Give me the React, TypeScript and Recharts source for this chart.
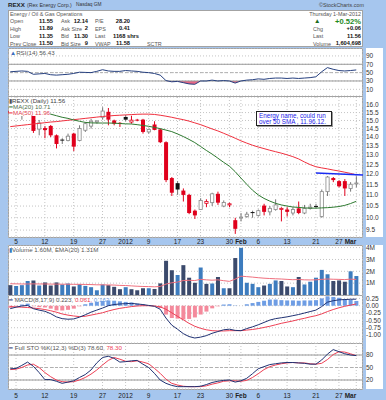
import React from "react";
import {
  ComposedChart,
  Bar,
  Line,
  Area,
  XAxis,
  YAxis,
  CartesianGrid,
  ReferenceLine,
  Cell,
} from "recharts";

// trading days Dec 2 2011 .. Mar 1 2012, position -1 .. 59
const opens = [15.6, 15.4, 15.6, 15.75, 15.41, 14.47, 14.53, 14.66, 14.1, 13.85, 13.8, 14.2, 13.8, 14.4, 14.65, 14.9, 15.2, 15.55, 15.0, 14.85, 15.22, 14.9, 15.05, 15.05, 14.3, 14.75, 14.45, 13.7, 11.8, 11.55, 11.2, 11.0, 10.3, 10.35, 10.62, 10.65, 11.05, 10.5, 10.55, 9.9, 10.0, 10.05, 10.24, 10.1, 10.52, 10.25, 10.35, 10.35, 10.35, 10.2, 10.4, 10.2, 10.4, 10.5, 10.05, 11.15, 11.8, 11.65, 11.65, 11.3, 11.55];
const highs = [15.8, 15.9, 15.95, 16.0, 15.45, 15.03, 14.66, 14.72, 14.15, 13.93, 14.2, 14.25, 14.7, 14.9, 15.1, 15.0, 15.85, 15.8, 15.05, 14.9, 15.35, 15.3, 15.1, 15.1, 14.5, 14.95, 14.5, 13.75, 11.85, 11.65, 11.3, 11.05, 10.35, 10.85, 10.8, 11.1, 11.15, 10.75, 10.65, 10.0, 10.2, 10.25, 10.3, 10.35, 10.6, 10.5, 10.8, 10.45, 10.45, 10.45, 10.7, 10.55, 10.6, 10.6, 11.25, 11.9, 11.85, 11.7, 11.75, 11.6, 11.89];
const lows = [15.3, 15.3, 15.05, 15.5, 14.24, 14.1, 13.93, 13.99, 13.35, 13.6, 13.75, 13.2, 13.75, 14.3, 14.5, 14.8, 15.05, 14.7, 14.7, 14.6, 14.95, 14.8, 14.95, 14.2, 14.2, 14.4, 13.65, 11.6, 10.95, 11.0, 10.7, 10.15, 9.95, 10.35, 10.45, 10.5, 10.55, 10.45, 10.45, 9.35, 9.85, 10.0, 10.0, 10.05, 10.1, 10.1, 10.3, 9.85, 10.05, 10.1, 10.15, 10.15, 10.35, 10.4, 10.0, 10.95, 11.6, 11.35, 10.95, 11.15, 11.35];
const closes = [15.45, 15.6, 15.7, 15.8, 14.36, 14.84, 14.41, 14.1, 13.6, 13.82, 14.05, 13.45, 14.5, 14.8, 14.95, 14.97, 15.6, 15.05, 14.8, 14.78, 15.05, 15.02, 15.0, 14.3, 14.45, 14.42, 13.7, 11.7, 11.1, 11.25, 11.0, 10.2, 10.1, 10.75, 10.7, 11.05, 10.65, 10.66, 10.6, 9.55, 10.03, 10.15, 10.2, 10.3, 10.25, 10.4, 10.55, 10.4, 10.25, 10.35, 10.2, 10.4, 10.45, 10.47, 11.15, 11.85, 11.7, 11.4, 11.3, 11.5, 11.56];
const ma20 = [15.85, 15.78, 15.72, 15.66, 15.6, 15.55, 15.5, 15.4, 15.3, 15.2, 15.13, 15.03, 14.95, 14.88, 14.85, 14.84, 14.84, 14.84, 14.83, 14.81, 14.79, 14.78, 14.74, 14.69, 14.64, 14.57, 14.5, 14.41, 14.32, 14.18, 14.03, 13.86, 13.68, 13.46, 13.24, 13.04, 12.82, 12.6, 12.4, 12.12, 11.8, 11.5, 11.22, 11.0, 10.84, 10.72, 10.62, 10.55, 10.5, 10.46, 10.44, 10.42, 10.41, 10.41, 10.42, 10.43, 10.45, 10.48, 10.53, 10.61, 10.71];
const ma50 = [14.62, 14.66, 14.7, 14.74, 14.78, 14.82, 14.86, 14.9, 14.93, 14.97, 15.01, 15.05, 15.09, 15.13, 15.17, 15.21, 15.25, 15.28, 15.31, 15.33, 15.35, 15.37, 15.39, 15.4, 15.4, 15.38, 15.33, 15.27, 15.2, 15.12, 15.05, 14.96, 14.85, 14.74, 14.61, 14.48, 14.36, 14.22, 14.08, 13.93, 13.78, 13.65, 13.53, 13.43, 13.34, 13.25, 13.17, 13.09, 13.0, 12.9, 12.78, 12.62, 12.48, 12.37, 12.31, 12.26, 12.2, 12.15, 12.09, 12.03, 11.96];
const rsi = [52, 53, 54, 53, 46, 47, 48, 45, 44, 45, 46, 48, 51, 50.5, 50, 53, 57, 54, 53, 53, 55, 54, 53, 51, 50, 48, 44, 31, 28, 29, 26, 23, 22, 30, 30, 32, 30, 31, 30, 25, 30, 32, 33, 35, 34, 36, 37, 37, 36, 37, 36, 37, 38, 40, 52, 62, 58, 55, 54, 55, 56.43];
const volume = [0.83, 0.75, 0.83, 1.18, 1.23, 0.8, 1.06, 0.8, 1.06, 0.89, 0.97, 0.72, 0.91, 0.77, 0.66, 0.4, 0.89, 0.83, 0.69, 0.49, 0.66, 0.49, 0.4, 0.57, 0.57, 0.51, 0.98, 2.89, 2.09, 1.69, 2.52, 1.46, 1.03, 2.32, 0.94, 0.97, 1.52, 0.57, 0.57, 3.12, 3.98, 1.03, 0.94, 0.66, 0.8, 0.94, 1.23, 1.18, 0.72, 0.66, 1.52, 0.89, 1.12, 1.46, 2.12, 1.75, 1.18, 1.23, 1.12, 2.0, 1.6];
const volEma = [0.95, 0.94, 0.93, 0.93, 0.94, 0.93, 0.93, 0.92, 0.92, 0.91, 0.91, 0.9, 0.9, 0.89, 0.88, 0.86, 0.86, 0.85, 0.84, 0.81, 0.8, 0.77, 0.74, 0.72, 0.71, 0.69, 0.72, 0.92, 1.03, 1.09, 1.22, 1.24, 1.22, 1.32, 1.28, 1.25, 1.28, 1.21, 1.15, 1.34, 1.59, 1.55, 1.51, 1.46, 1.42, 1.39, 1.37, 1.35, 1.32, 1.29, 1.31, 1.28, 1.27, 1.28, 1.32, 1.35, 1.33, 1.32, 1.3, 1.34, 1.31];
const macd = [-0.1, -0.05, -0.01, 0.01, -0.1, -0.15, -0.19, -0.27, -0.38, -0.44, -0.46, -0.45, -0.39, -0.31, -0.22, -0.15, -0.08, 0.0, 0.04, 0.06, 0.07, 0.08, 0.06, 0.04, 0.01, -0.02, -0.12, -0.42, -0.66, -0.8, -0.95, -1.05, -1.1, -1.07, -1.02, -0.94, -0.88, -0.82, -0.8, -0.84, -0.85, -0.78, -0.72, -0.65, -0.57, -0.49, -0.44, -0.41, -0.38, -0.34, -0.3, -0.25, -0.2, -0.15, -0.03, 0.12, 0.17, 0.2, 0.21, 0.22, 0.223];
const signal = [-0.03, -0.04, -0.05, -0.06, -0.08, -0.1, -0.13, -0.17, -0.22, -0.28, -0.32, -0.35, -0.37, -0.36, -0.32, -0.28, -0.24, -0.18, -0.13, -0.09, -0.06, -0.03, -0.01, 0.0, 0.0, -0.01, -0.04, -0.12, -0.24, -0.36, -0.48, -0.6, -0.7, -0.77, -0.82, -0.85, -0.86, -0.86, -0.85, -0.85, -0.85, -0.83, -0.81, -0.78, -0.74, -0.7, -0.65, -0.6, -0.56, -0.52, -0.47, -0.43, -0.38, -0.34, -0.28, -0.2, -0.13, -0.07, -0.02, 0.02, 0.061];
const histogram = [-0.07, -0.01, 0.04, 0.07, -0.02, -0.05, -0.06, -0.1, -0.16, -0.16, -0.14, -0.1, -0.02, 0.05, 0.1, 0.13, 0.16, 0.18, 0.17, 0.15, 0.13, 0.11, 0.07, 0.04, 0.01, -0.01, -0.08, -0.3, -0.42, -0.44, -0.47, -0.45, -0.4, -0.3, -0.2, -0.09, -0.02, 0.04, 0.05, 0.01, 0.0, 0.05, 0.09, 0.13, 0.17, 0.21, 0.21, 0.19, 0.18, 0.18, 0.17, 0.18, 0.18, 0.19, 0.25, 0.32, 0.3, 0.27, 0.23, 0.2, 0.162];
const stoK = [47, 47.6, 55, 63, 53, 38, 21, 21, 17, 12, 15, 18, 26, 33, 44, 61, 74, 77, 72, 63, 64, 66, 67, 58, 50, 36, 20, 12, 7, 4, 4, 4, 4, 5, 9, 14, 17, 19, 20, 15, 18, 24, 35, 47, 52, 57, 59, 61, 62, 62, 61, 60, 58, 58, 68, 82, 93, 88, 83, 80, 78.6];
const stoD = [45, 46, 50, 56, 58, 50, 38, 28, 20, 16, 15, 16, 20, 26, 34, 44, 56, 67, 74, 70, 65, 64, 66, 63, 59, 48, 36, 22, 12, 8, 5, 4, 4, 4, 6, 10, 13, 17, 18, 18, 17, 19, 26, 35, 45, 52, 56, 59, 61, 62, 61, 61, 59, 58, 60, 69, 81, 88, 87, 83, 78.3];

const gridIdx = [0, 5, 10, 15, 19, 23, 28, 32, 37, 39, 42, 47, 52, 56, 59];
const gridLabels = ["5", "12", "19", "27", "2012", "9", "17", "23", "30", "Feb", "6", "13", "21", "27", "Mar"];
const priceTicks = [9.5, 10, 10.5, 11, 11.5, 12, 12.5, 13, 13.5, 14, 14.5, 15, 15.5, 16];

const rows = closes.map((c, k) => ({
  i: k - 1,
  open: opens[k],
  high: highs[k],
  low: lows[k],
  close: c,
  prev: k > 0 ? closes[k - 1] : opens[k],
  ma20: ma20[k],
  ma50: ma50[k],
  rsi: rsi[k],
  vol: volume[k],
  ema: volEma[k],
  macd: macd[k],
  signal: signal[k],
  hist: histogram[k],
  k: stoK[k],
  d: stoD[k],
}));

const FONT = "'Liberation Sans', Arial, sans-serif";
const W = 386;
const MARGIN = { top: 0, right: 0, bottom: 0, left: 8 };
const X_DOMAIN: [number, number] = [-1.39, 60.17];
const BG = "#a6c6ee";
const NAVY = "#1f3172";
const RED = "#ee4055";
const GRID = "#c4c4c4";

const axisTick = { fontSize: 6.5, fill: "#333", fontFamily: FONT };

function Candle(props: any) {
  const { x, y, width, height, payload } = props;
  const { open, high, low, close, prev } = payload;
  const lh = Math.log(high);
  const span = lh - Math.log(low) || 1;
  const toY = (p: number) => y + (height * (lh - Math.log(p))) / span;
  const down = close < prev;
  const filled = close < open;
  const color = down ? "#e0001c" : "#111";
  const cx = x + width / 2;
  const top = toY(Math.max(open, close));
  const h = Math.max(toY(Math.min(open, close)) - top, 1);
  return (
    <g>
      <line x1={cx} x2={cx} y1={y} y2={y + height} stroke={down ? color : "#777"} strokeWidth={1} />
      {filled ? (
        <rect x={x} y={top} width={width} height={h} fill={color} />
      ) : (
        <rect x={x + 0.4} y={top} width={width - 0.8} height={h} fill="#fff" stroke={down ? color : "#888"} strokeWidth={0.8} />
      )}
    </g>
  );
}

function DateTick(props: any) {
  const { x, y, payload, dy } = props;
  const n = gridIdx.indexOf(payload.value);
  const label = gridLabels[n];
  const bold = isNaN(Number(label));
  const last = n === gridIdx.length - 1;
  return (
    <text x={x} y={y + dy} textAnchor={last ? "end" : "middle"} fontSize={6.5} fontFamily={FONT} fontWeight={bold ? 700 : 400} fill="#222">
      {label}
    </text>
  );
}

function Txt({ x, y, r, size = 5.4, bold, color = "#555", bg, children }: any) {
  const style: React.CSSProperties = {
    position: "absolute",
    top: y,
    fontSize: size,
    lineHeight: 1,
    fontWeight: bold ? 700 : 400,
    color,
    whiteSpace: "nowrap",
    fontFamily: FONT,
    background: bg,
  };
  if (r !== undefined) style.right = W - r;
  else style.left = x;
  return <div style={style}>{children}</div>;
}

function Box({ x, y, w, h, border = true }: any) {
  return (
    <div
      style={{
        position: "absolute",
        left: x,
        top: y,
        width: w,
        height: h,
        background: "#fff",
        boxSizing: "border-box",
        border: border ? "1px solid #a3a3a3" : "none",
      }}
    />
  );
}

function Place({ top, children }: any) {
  return <div style={{ position: "absolute", left: 0, top }}>{children}</div>;
}

const hiddenX = (
  <XAxis type="number" dataKey="i" domain={X_DOMAIN} ticks={gridIdx} interval={0} height={0} tick={false} axisLine={false} tickLine={false} allowDataOverflow />
);

const V = 5.7; // header value size

export default function App() {
  return (
    <div style={{ position: "absolute", left: 0, top: 0, width: W, height: 400, background: BG, overflow: "hidden", fontFamily: FONT }}>
      {/* backgrounds */}
      <Box x={8} y={10} w={355} h={37} />
      <Box x={8} y={48} w={355} h={49} />
      <Box x={8} y={96} w={355} h={142} />
      <Box x={8} y={245} w={355} h={51} />
      <Box x={8} y={295} w={355} h={49} />
      <Box x={8} y={343} w={355} h={47} />
      <Box x={366} y={48} w={17} h={189} border={false} />
      <Box x={366} y={245} w={17} h={144} border={false} />

      {/* RSI */}
      <Place top={48}>
        <ComposedChart width={W} height={48} data={rows} margin={MARGIN}>
          <CartesianGrid stroke={GRID} strokeDasharray="1 2" />
          {hiddenX}
          <YAxis orientation="right" width={23} domain={[-6, 109]} ticks={[10, 30, 50, 70, 90]} interval={0} tick={axisTick} tickSize={2} tickMargin={1} axisLine={false} tickLine={false} allowDataOverflow />
          <ReferenceLine y={70} stroke="#9a9a9a" />
          <ReferenceLine y={30} stroke="#9a9a9a" />
          <ReferenceLine y={50} stroke="#b0b0b0" strokeDasharray="3 2" />
          <Area dataKey={(r: any) => [Math.min(r.rsi, 30), 30]} fill="#e6587a" fillOpacity={0.9} stroke="none" isAnimationActive={false} />
          <Line dataKey="rsi" stroke="#26407f" strokeWidth={1} dot={false} isAnimationActive={false} />
        </ComposedChart>
      </Place>

      {/* Price */}
      <Place top={97}>
        <ComposedChart width={W} height={148} data={rows} margin={MARGIN}>
          <CartesianGrid stroke={GRID} strokeDasharray="1 2" />
          <XAxis type="number" dataKey="i" domain={X_DOMAIN} ticks={gridIdx} interval={0} height={8} axisLine={false} tickLine={false} tickSize={0} tickMargin={0} tick={<DateTick dy={7} />} allowDataOverflow />
          <YAxis orientation="right" width={23} scale="log" domain={[9.23, 16.54]} ticks={priceTicks} interval={0} tick={axisTick} tickFormatter={(v: number) => v.toFixed(1)} tickSize={2} tickMargin={1} axisLine={false} tickLine={false} allowDataOverflow />
          <Line dataKey="ma50" stroke="#f0303e" strokeWidth={1} dot={false} isAnimationActive={false} />
          <Line dataKey="ma20" stroke="#2e7a30" strokeWidth={1} dot={false} isAnimationActive={false} />
          <Bar dataKey={(r: any) => [r.low, r.high]} barSize={4} shape={<Candle />} isAnimationActive={false} />
          <ReferenceLine segment={[{ x: 52, y: 12.05 }, { x: 60.17, y: 11.95 }]} stroke="#1a2cf2" strokeWidth={1.5} />
        </ComposedChart>
      </Place>

      {/* Volume */}
      <Place top={245}>
        <ComposedChart width={W} height={50} data={rows} margin={MARGIN}>
          <CartesianGrid stroke={GRID} strokeDasharray="1 2" />
          {hiddenX}
          <YAxis orientation="right" width={23} domain={[0, 4.22]} ticks={[1, 2, 3, 4]} interval={0} tick={axisTick} tickFormatter={(v: number) => `${v}M`} tickSize={2} tickMargin={1} axisLine={false} tickLine={false} allowDataOverflow />
          <Bar dataKey="vol" barSize={4} isAnimationActive={false}>
            {rows.map((r) => (
              <Cell key={r.i} fill={r.close < r.prev ? "#3b4a6c" : "#3d7cbe"} />
            ))}
          </Bar>
          <Line dataKey="ema" stroke="#f0707e" strokeWidth={1} dot={false} isAnimationActive={false} />
        </ComposedChart>
      </Place>

      {/* MACD */}
      <Place top={295}>
        <ComposedChart width={W} height={48} data={rows} margin={MARGIN}>
          <CartesianGrid stroke={GRID} strokeDasharray="1 2" />
          {hiddenX}
          <YAxis orientation="right" width={23} domain={[-1.27, 0.365]} ticks={[-1, -0.75, -0.5, -0.25, 0, 0.25]} interval={0} tick={axisTick} tickFormatter={(v: number) => v.toFixed(2)} tickSize={2} tickMargin={1} axisLine={false} tickLine={false} allowDataOverflow />
          <Bar dataKey="hist" barSize={4} isAnimationActive={false}>
            {rows.map((r) => (
              <Cell key={r.i} fill={r.hist >= 0 ? "#6e9de4" : "#f48a9c"} />
            ))}
          </Bar>
          <Line dataKey="signal" stroke={RED} strokeWidth={1} dot={false} isAnimationActive={false} />
          <Line dataKey="macd" stroke={NAVY} strokeWidth={1} dot={false} isAnimationActive={false} />
        </ComposedChart>
      </Place>

      {/* Full STO */}
      <Place top={343}>
        <ComposedChart width={W} height={57} data={rows} margin={MARGIN}>
          <CartesianGrid stroke={GRID} strokeDasharray="1 2" />
          <XAxis type="number" dataKey="i" domain={X_DOMAIN} ticks={gridIdx} interval={0} height={11} axisLine={false} tickLine={false} tickSize={0} tickMargin={0} tick={<DateTick dy={9} />} allowDataOverflow />
          <YAxis orientation="right" width={23} domain={[-1.6, 108.8]} ticks={[20, 50, 80]} interval={0} tick={axisTick} tickSize={2} tickMargin={1} axisLine={false} tickLine={false} allowDataOverflow />
          <ReferenceLine y={80} stroke="#9a9a9a" />
          <ReferenceLine y={20} stroke="#9a9a9a" />
          <ReferenceLine y={50} stroke="#b0b0b0" strokeDasharray="3 2" />
          <Line dataKey="d" stroke={RED} strokeWidth={1} dot={false} isAnimationActive={false} />
          <Line dataKey="k" stroke={NAVY} strokeWidth={1} dot={false} isAnimationActive={false} />
        </ComposedChart>
      </Place>

      {/* title */}
      <Txt x={8} y={2} size={6.2} bold color="#222">REXX</Txt>
      <Txt x={27} y={2.5} size={5.2} color="#333">(Rex Energy Corp.)</Txt>
      <Txt x={76} y={2.8} size={4.8} color="#333">Nasdaq GM</Txt>
      <Txt r={364} y={2.5} size={5.4} color="#444">©StockCharts.com</Txt>

      {/* header */}
      <Txt x={10} y={11.5}>Energy / Oil &amp; Gas Operations</Txt>
      <Txt r={361} y={11.5}>Thursday  1-Mar-2012</Txt>
      <Txt x={10} y={19}>Open</Txt>
      <Txt x={10} y={26.5}>High</Txt>
      <Txt x={10} y={34}>Low</Txt>
      <Txt x={10} y={41.5}>Prev Close</Txt>
      <Txt r={53} y={18.8} size={V} bold color="#111">11.55</Txt>
      <Txt r={53} y={26.3} size={V} bold color="#111">11.89</Txt>
      <Txt r={53} y={33.8} size={V} bold color="#111">11.35</Txt>
      <Txt r={53} y={41.3} size={V} bold color="#111">11.50</Txt>
      <Txt x={61} y={19}>Ask</Txt>
      <Txt x={61} y={26.5}>Ask Size</Txt>
      <Txt x={61} y={34}>Bid</Txt>
      <Txt x={61} y={41.5}>Bid Size</Txt>
      <Txt r={88} y={18.8} size={V} bold color="#111">12.14</Txt>
      <Txt r={88} y={26.3} size={V} bold color="#111">2</Txt>
      <Txt r={88} y={33.8} size={V} bold color="#111">11.30</Txt>
      <Txt r={88} y={41.3} size={V} bold color="#111">9</Txt>
      <Txt x={95} y={19}>P/E</Txt>
      <Txt x={95} y={26.5}>EPS</Txt>
      <Txt x={95} y={34}>Last</Txt>
      <Txt x={95} y={41.5}>VWAP</Txt>
      <Txt r={130} y={18.8} size={V} bold color="#111">28.20</Txt>
      <Txt r={130} y={26.3} size={V} bold color="#111">0.41</Txt>
      <Txt r={139} y={33.8} size={V} bold color="#111">1168 shrs</Txt>
      <Txt r={130} y={41.3} size={V} bold color="#111">11.58</Txt>
      <Txt x={147} y={41.5}>SCTR</Txt>
      <Txt x={314} y={18} size={6.5} color="#1d6b1d">▲</Txt>
      <Txt r={361} y={17.5} size={7.6} bold color="#1e8a1e">+0.52%</Txt>
      <Txt x={313} y={26.5}>Chg</Txt>
      <Txt r={361} y={26.3} size={V} bold color="#111">+0.06</Txt>
      <Txt x={313} y={34}>Last</Txt>
      <Txt r={361} y={33.8} size={V} bold color="#111">11.56</Txt>
      <Txt x={313} y={41.5}>Volume</Txt>
      <Txt r={361} y={41.3} size={V} bold color="#111">1,604,698</Txt>

      {/* legends */}
      <Txt x={10} y={49.5} size={6.2} color="#555"><span style={{ color: "#3d6fc0" }}>▲</span>RSI(14) 56.43</Txt>
      <Txt x={9} y={97.5} size={6.2} color="#444" bg="#fff"><span style={{ color: "#555" }}>▮</span>REXX (Daily) 11.56</Txt>
      <Txt x={9} y={103.5} size={6.2} color="#4d6d4d" bg="#fff"><span style={{ color: "#2e7a30" }}>━</span>MA(20) 10.71</Txt>
      <Txt x={9} y={109.5} size={6.2} color="#e0404e" bg="#fff"><span style={{ color: "#f0303e" }}>━</span>MA(50) 11.96</Txt>
      <Txt x={9} y={246.5} size={6.2} color="#555"><span style={{ color: "#3d7cbe" }}>▮</span>Volume 1.60M, EMA(20) 1.31M</Txt>
      <Txt x={9} y={296.5} size={6.2} color="#555">
        <span style={{ color: NAVY }}>━</span> MACD(8,17,9) 0.223, <span style={{ color: RED }}>0.061,</span> <span style={{ color: "#6e9de4" }}>0.162</span>
      </Txt>
      <Txt x={9} y={344.5} size={6.2} color="#555">
        <span style={{ color: NAVY }}>━</span> Full STO %K(12,3) %D(3) 78.60, <span style={{ color: RED }}>78.30</span>
      </Txt>

      {/* annotation */}
      <div
        style={{
          position: "absolute",
          left: 256,
          top: 111,
          width: 76,
          height: 15,
          boxSizing: "border-box",
          background: "#fff",
          border: "1px solid #222",
          boxShadow: "1px 1px 0 #999",
          color: "#1a1ae8",
          fontSize: 6.3,
          lineHeight: "6.4px",
          padding: "0.5px 2px",
          fontFamily: FONT,
          whiteSpace: "nowrap",
        }}
      >
        Energy name, could run
        <br />
        over 50 SMA , 11.96.12.
      </div>
    </div>
  );
}
